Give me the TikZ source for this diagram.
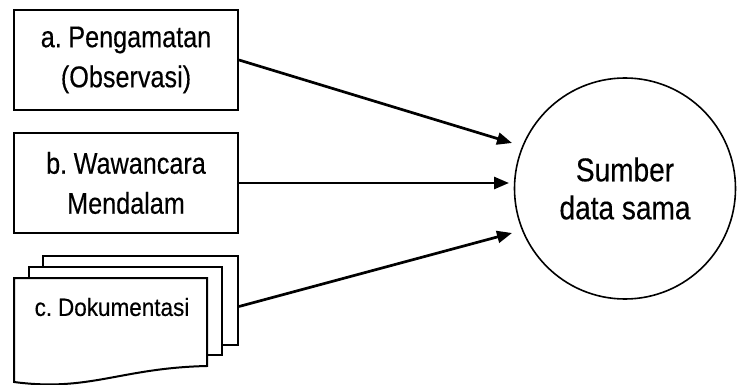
\documentclass[tikz,border=0pt]{standalone}
\usepackage{fontspec}
\setmainfont{Liberation Sans}
\newfontfamily\boxfont{Liberation Sans}[FakeStretch=0.84, WordSpace=0.6, FakeBold=0.3]
\newfontfamily\docfont{Liberation Sans}[FakeStretch=0.9, WordSpace=0.6, FakeBold=0.3]
\newfontfamily\circfont{Liberation Sans}[FakeStretch=0.85, FakeBold=0.3]
\usetikzlibrary{arrows.meta}
\begin{document}
\begin{tikzpicture}[x=1pt,y=-1pt,
  boxstyle/.style={draw=black, line width=2pt, fill=white, minimum width=224pt, minimum height=100pt, inner sep=0pt, align=center, font=\boxfont\fontsize{30}{40}\selectfont},
  sheet/.style={draw=black, line width=2pt, fill=white},
  arr/.style={line width=2.7pt, -{Triangle[length=15pt,width=12pt]}},
  ]
\useasboundingbox (0,0) rectangle (739,385);
% boxes
\node[boxstyle] (a) at (126,60) {a. Pengamatan\\(Observasi)};
\node[boxstyle] (b) at (126,183) {b. Wawancara\\Mendalam};
% document stack
\node[sheet, minimum width=195pt, minimum height=89pt, inner sep=0pt] (cback) at (140.5,300.5) {};
\node[sheet, minimum width=193pt, minimum height=88pt, inner sep=0pt] (cmid) at (125.5,311) {};
\draw[sheet] (14,278) -- (207,278) -- (207,366)
  .. controls (120,368) and (90,392) .. (14,382) -- cycle;
\node[font=\docfont\fontsize{25}{30}\selectfont] (c) at (112,307) {c. Dokumentasi};
% circle
\node[draw=black, line width=1.6pt, circle, minimum size=221pt, inner sep=0pt, align=center,
  font=\circfont\fontsize{33}{38}\selectfont] (circ) at (625,188.5) {Sumber\\data sama};
% arrow tips
\coordinate (ta) at (512,143);
\coordinate (tb) at (509,183);
\coordinate (tc) at (512,233);
\draw[arr] (a.east) -- (ta);
\draw[arr] (b.east) -- (tb);
\draw[arr] ([yshift=-6pt]cback.east) -- (tc);
\end{tikzpicture}
\end{document}
